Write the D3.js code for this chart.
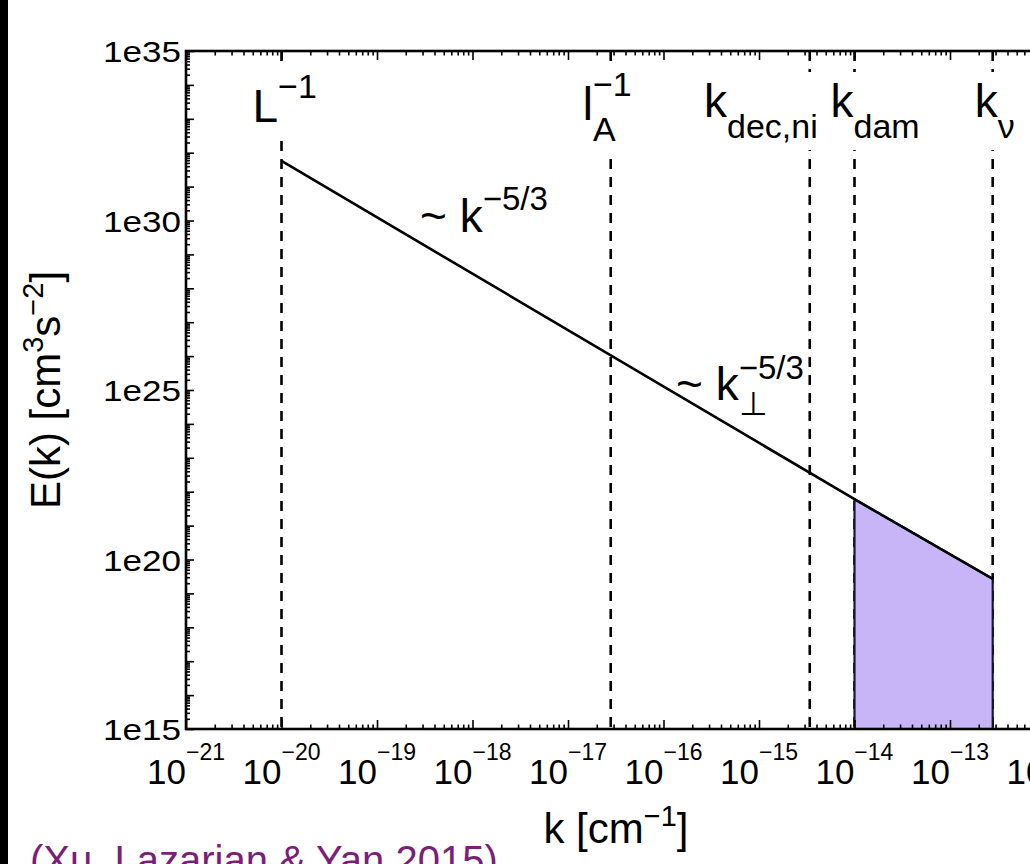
<!DOCTYPE html>
<html>
<head>
<meta charset="utf-8">
<script src="https://cdn.jsdelivr.net/npm/d3@7"></script>
<style>
  body { margin: 0; background: #fff; }
  svg { display: block; }
  text { font-family: "Liberation Sans", Arial, Helvetica, sans-serif; fill: #000; }
</style>
</head>
<body>
<svg></svg>
<script>
const width = 1030;
const height = 864;

// tick exponents on k axis, labelled decades on E axis
const xTickExps = [-21, -20, -19, -18, -17, -16, -15, -14, -13, -12];
const yLabelVals = [1e15, 1e20, 1e25, 1e30, 1e35];

// spectrum E(k)
const specK = [1e-20, 1e-14, 2.8e-13];
const specE = [5.7e31, 6.0e21, 2.7e19];

// characteristic scales (dashed lines)
const markerK = [1e-20, 2.8e-17, 3.4e-15, 1e-14, 2.8e-13];
const markerBase = ["L", "l", "k", "k", "k"];
const markerSub = ["", "A", "dec,ni", "dam", "\u03bd"];
const markerSup = ["\u22121", "\u22121", "", "", ""];

// damped range (shaded)
const dampRange = [1e-14, 2.8e-13];

const x = d3.scaleLog().domain([1e-21, 1e-11]).range([186, 1141]);
const y = d3.scaleLog().domain([1e15, 1e35]).range([729, 51]);

const svg = d3.select('svg')
  .attr('width', width)
  .attr('height', height);

// black frame edge on the left of the picture
svg.append('rect')
  .attr('x', 0).attr('y', 0)
  .attr('width', 8).attr('height', height)
  .attr('fill', '#000');

// dashed lines
svg.append('g')
  .selectAll('line')
  .data(markerK)
  .enter().append('line')
    .attr('x1', d => x(d)).attr('x2', d => x(d))
    .attr('y1', y.range()[1]).attr('y2', y.range()[0])
    .attr('stroke', '#000')
    .attr('stroke-width', 2.6)
    .attr('stroke-dasharray', '10,8');

// shaded damping region
const spec = specK.map((k, i) => ({ k: k, E: specE[i] }));
const dampPts = spec.filter(d => d.k >= dampRange[0] && d.k <= dampRange[1]);
const area = d3.area()
  .x(d => x(d.k))
  .y0(y(1e15))
  .y1(d => y(d.E));
svg.append('path')
  .datum(dampPts)
  .attr('d', area)
  .attr('fill', '#c8b5f8')
  .attr('stroke', '#16163a')
  .attr('stroke-width', 2.2);

// spectrum line
const line = d3.line().x(d => x(d.k)).y(d => y(d.E));
svg.append('path')
  .datum(spec)
  .attr('d', line)
  .attr('fill', 'none')
  .attr('stroke', '#000')
  .attr('stroke-width', 2.6);

// label with sub/superscript stacked after the base text
function richLabel(g, base, sub, sup, bSize, sSize, subDy, supDy) {
  const t = g.append('text')
    .attr('x', 0).attr('y', 0)
    .style('font-size', bSize + 'px')
    .text(base);
  const w = t.node().getComputedTextLength();
  if (sub) {
    g.append('text').attr('x', w).attr('y', subDy)
      .style('font-size', sSize + 'px').text(sub);
  }
  if (sup) {
    g.append('text').attr('x', w).attr('y', -supDy)
      .style('font-size', sSize + 'px').text(sup);
  }
  return g;
}

// marker labels, white boxes behind them
const labelShift = [-29, -28, 8, -24, -18];
const labelAlign = ["start", "start", "end", "start", "start"];
const labelBase = [122, 120, 117, 117, 117];
markerK.forEach((k, i) => {
  const g = svg.append('g');
  const inner = g.append('g');
  richLabel(inner, markerBase[i], markerSub[i], markerSup[i], 46, 34, 21, 24);
  const bb = inner.node().getBBox();
  const left = labelAlign[i] === "end" ? x(k) + labelShift[i] - bb.width : x(k) + labelShift[i];
  g.attr('transform', `translate(${left - bb.x},${labelBase[i]})`);
  inner.insert('rect', ':first-child')
    .attr('x', bb.x - 4).attr('y', bb.y - 3)
    .attr('width', bb.width + 8).attr('height', bb.height + 8)
    .attr('fill', '#fff');
});

// slope annotations
const ann1 = svg.append('g').attr('transform', 'translate(420,232)');
richLabel(ann1, "~ k", "", "\u22125/3", 46, 33, 0, 22);
const ann2 = svg.append('g').attr('transform', 'translate(676,400)');
richLabel(ann2, "~ k", "\u22a5", "\u22125/3", 46, 33, 15, 21);

// axes: ticks point inward
const xMinor = [];
xTickExps.forEach(e => { for (let m = 2; m < 10; m++) xMinor.push(m * Math.pow(10, e)); });
const yMajor = d3.range(15, 36).map(e => Math.pow(10, e));
const yMinor = [];
d3.range(15, 35).forEach(e => { for (let m = 2; m < 10; m++) yMinor.push(m * Math.pow(10, e)); });
const xMajor = xTickExps.map(e => Math.pow(10, e));

function tickGroup(axis, tx, ty) {
  const g = svg.append('g').attr('transform', `translate(${tx},${ty})`).call(axis);
  g.select('.domain').remove();
  g.selectAll('.tick line').attr('stroke', '#000').attr('stroke-width', 1.6);
  return g;
}
tickGroup(d3.axisBottom(x).tickValues(xMajor).tickSize(-9).tickFormat(''), 0, y(1e15));
tickGroup(d3.axisBottom(x).tickValues(xMinor).tickSize(-4.5).tickFormat(''), 0, y(1e15));
tickGroup(d3.axisTop(x).tickValues(xMajor).tickSize(-9).tickFormat(''), 0, y(1e35));
tickGroup(d3.axisTop(x).tickValues(xMinor).tickSize(-4.5).tickFormat(''), 0, y(1e35));
tickGroup(d3.axisLeft(y).tickValues(yMajor).tickSize(-8).tickFormat(''), x(1e-21), 0);
tickGroup(d3.axisLeft(y).tickValues(yMinor).tickSize(-4).tickFormat(''), x(1e-21), 0);

// plot box
svg.append('rect')
  .attr('x', x(1e-21)).attr('y', y(1e35))
  .attr('width', x(1e-11) - x(1e-21))
  .attr('height', y(1e15) - y(1e35))
  .attr('fill', 'none')
  .attr('stroke', '#000')
  .attr('stroke-width', 2.6);

// x tick labels 10^e
xTickExps.forEach(e => {
  const g = svg.append('g');
  const inner = g.append('g');
  richLabel(inner, "10", "", "\u2212" + Math.abs(e), 35, 23, 0, 24);
  const bb = inner.node().getBBox();
  g.attr('transform', `translate(${x(Math.pow(10, e)) - bb.width / 2},784)`);
});

// y tick labels
svg.append('g')
  .selectAll('text')
  .data(yLabelVals)
  .enter().append('text')
    .attr('x', 181)
    .attr('y', d => y(d) + 11)
    .attr('text-anchor', 'end')
    .attr('textLength', 78)
    .attr('lengthAdjust', 'spacingAndGlyphs')
    .style('font-size', '30px')
    .text(d => "1e" + Math.round(Math.log10(d)));

// axis titles
const xt = svg.append('text')
  .attr('x', 616).attr('y', 843)
  .attr('text-anchor', 'middle')
  .style('font-size', '42px');
xt.append('tspan').text('k [cm');
xt.append('tspan').attr('dy', -17).style('font-size', '29px').text('\u22121');
xt.append('tspan').attr('dy', 17).text(']');

const yt = svg.append('text')
  .attr('transform', 'translate(60,390) rotate(-90)')
  .attr('text-anchor', 'middle')
  .style('font-size', '42px');
yt.append('tspan').text('E(k) [cm');
yt.append('tspan').attr('dy', -17).style('font-size', '29px').text('3');
yt.append('tspan').attr('dy', 17).text('s');
yt.append('tspan').attr('dy', -17).style('font-size', '29px').text('\u22122');
yt.append('tspan').attr('dy', 17).text(']');

// citation, cut by the bottom edge as in the source
svg.append('text')
  .attr('x', 30).attr('y', 874)
  .style('font-size', '40px')
  .style('fill', '#7a1e7a')
  .text('(Xu, Lazarian & Yan 2015)');
</script>
</body>
</html>
